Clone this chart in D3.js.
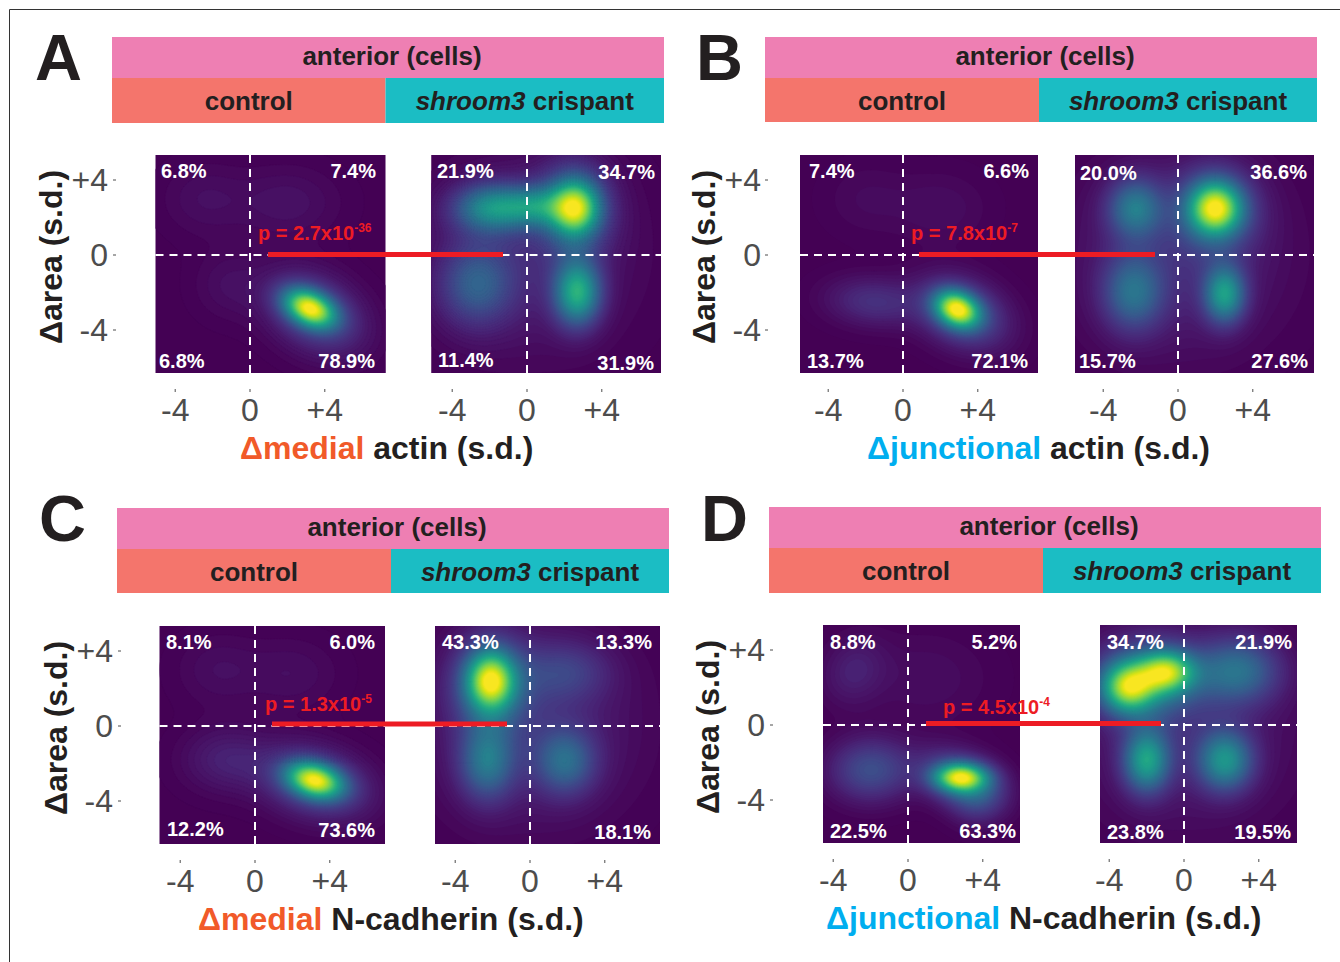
<!DOCTYPE html>
<html><head><meta charset="utf-8">
<style>html,body{margin:0;padding:0;background:#fff}svg{display:block}text{font-family:"Liberation Sans",Arial,sans-serif}</style>
<script src="https://cdn.jsdelivr.net/npm/d3@7"></script></head>
<body><div id="chart"></div>
<script>
// ---- data ----
const panelLetters = ["A","B","C","D"];
const markerPrefix = ["Δmedial","Δjunctional","Δmedial","Δjunctional"];
const markerSuffix = [" actin (s.d.)"," actin (s.d.)"," N-cadherin (s.d.)"," N-cadherin (s.d.)"];
const pMantissa = ["p = 2.7x10","p = 7.8x10","p = 1.3x10","p = 4.5x10"];
const pExponent = ["-36","-7","-5","-4"];
const groupLabels = ["control","crispant"];
const xTickValues = [-4,0,4];
const yTickValues = [4,0,-4];
const tickLabels = {"-4":"-4","0":"0","4":"+4"};
// quadrant shares: top-left, top-right, bottom-left, bottom-right ("" = not printed)
const sharesA = [["6.8%","7.4%","6.8%","78.9%"],["21.9%","34.7%","11.4%","31.9%"]];
const sharesB = [["7.4%","6.6%","13.7%","72.1%"],["20.0%","36.6%","15.7%","27.6%"]];
const sharesC = [["8.1%","6.0%","12.2%","73.6%"],["43.3%","13.3%","","18.1%"]];
const sharesD = [["8.8%","5.2%","22.5%","63.3%"],["34.7%","21.9%","23.8%","19.5%"]];
// density modes seen in each map: x, y (s.d.), spread x, spread y, tilt (deg), height 0..1
const modesAControl = [[3.2,-2.85,1.0,0.62,-25,0.82],[3.5,-3.1,1.9,1.35,-30,0.22],[-1.2,-1.6,1.3,1.3,0,0.04],[-2.5,3,1.6,1.4,0,0.04],[2,2.8,2,1.4,0,0.05]];
const modesACrispant = [[2.6,2.5,0.85,1.0,0,0.6],[2.5,2.5,1.35,1.6,0,0.3],[-2,2.5,1.35,0.9,0,0.42],[0.4,2.6,1.3,0.75,0,0.34],[2.7,-2,0.85,1.2,0,0.58],[-2.7,-1.6,1.35,1.5,0,0.26],[0,0,3.6,3.4,0,0.1]];
const modesBControl = [[2.9,-2.9,0.85,0.62,-25,0.8],[3.2,-3.1,1.7,1.2,-25,0.26],[-1.6,-2.5,1.7,0.9,-5,0.14],[-2,3,1.6,1.4,0,0.03],[2,2.5,1.8,1.4,0,0.04]];
const modesBCrispant = [[2,2.5,0.95,0.95,0,0.72],[2,2.4,1.5,1.55,0,0.25],[-2.3,2.5,1.0,1.1,0,0.36],[2.5,-2.1,0.75,1.05,0,0.5],[-2.4,-2,1.1,1.4,0,0.32],[0,0,3.6,3.4,0,0.12]];
const modesCControl = [[3.2,-2.9,1.05,0.62,-15,0.78],[3.2,-3.0,2.0,1.25,-15,0.24],[-1.6,-1.8,1.6,1.2,0,0.09],[-2,3,1.6,1.4,0,0.04],[2,2.8,1.8,1.4,0,0.04]];
const modesCCrispant = [[-2.1,2.4,0.85,1.05,0,0.68],[-2.1,2.3,1.4,1.7,0,0.3],[1.9,2.9,1.6,1.1,0,0.15],[-2.3,-1.9,1.0,1.4,0,0.34],[1.9,-1.9,1.1,1.2,0,0.29],[0,0,3.6,3.4,0,0.12]];
const modesDControl = [[2.8,-2.8,0.95,0.5,0,0.68],[2.8,-2.9,1.5,0.95,-20,0.3],[3.7,-3.8,1.0,1.0,0,0.15],[-2,-2.4,1.5,1.15,0,0.24],[-2.9,2.9,1.1,1.3,-30,0.09],[1,2.5,2.4,1.8,0,0.04]];
const modesDCrispant = [[-3,2,0.95,0.9,0,0.62],[-0.9,2.85,1.0,0.75,0,0.6],[-2,2.4,1.9,1.4,0,0.36],[2.9,2.9,1.5,1.2,0,0.33],[-2,-1.9,0.85,1.15,0,0.52],[2.2,-1.9,1.0,1.1,0,0.46],[0,0,3.8,3.6,0,0.1]];

// ---- layout ----
const W = 1340, H = 962;
const frames = [
 {letter:[35,80], head:[112,664,37,78,123], split:385.5, panels:[[155.5,385.5,250],[431.5,661,527]], y:[155,373,255], yTitle:62, yTick:[116,108], xTickY:421, xTitle:[240,459], pText:[258,240], pLine:[268,503,254.5],
  labels:[[[161,178],[376,178],[159,368],[375,368]],[[437,178],[655,179],[438,367],[654,370]]]},
 {letter:[696,80], head:[765,1317,37,78,122], split:1039, panels:[[800,1038,903],[1075,1314,1178]], y:[155,373,255], yTitle:715, yTick:[768,761], xTickY:421, xTitle:[867,459], pText:[911,240], pLine:[919,1155,254.5],
  labels:[[[809,178],[1029,178],[807,368],[1028,368]],[[1080,180],[1307,179],[1079,368],[1308,368]]]},
 {letter:[39,541], head:[117,669,508,549,593], split:391, panels:[[159.5,385,255],[435,660,530]], y:[626,844,726], yTitle:67, yTick:[121,113], xTickY:892, xTitle:[198,930], pText:[265,711], pLine:[272,507,724],
  labels:[[[166,649],[375,649],[167,836],[375,837]],[[442,649],[652,649],[442,837],[651,839]]]},
 {letter:[701,541], head:[769,1321,507,548,593], split:1043, panels:[[823,1020,908],[1100,1297,1184]], y:[625,843,725], yTitle:719, yTick:[773,765], xTickY:891, xTitle:[826,929], pText:[943,714], pLine:[926,1161,723.5],
  labels:[[[830,649],[1017,649],[830,838],[1016,838]],[[1107,649],[1292,649],[1107,839],[1291,839]]]}
];
const allShares = [sharesA,sharesB,sharesC,sharesD];
const allModes = [[modesAControl,modesACrispant],[modesBControl,modesBCrispant],[modesCControl,modesCCrispant],[modesDControl,modesDCrispant]];
const unitX = 18.7, unitY = 18.75, dark = "#231f20", grey = "#4d4d4d";

const svg = d3.select("#chart").append("svg").attr("width",W).attr("height",H).attr("viewBox",[0,0,W,H]);
svg.append("rect").attr("width",W).attr("height",H).attr("fill","#fff");
svg.append("path").attr("d",`M9.5,${H}V9.5H${W}`).attr("fill","none").attr("stroke","#333").attr("stroke-width",1);
const defs = svg.append("defs");

function densityAt(modes,x,y){
  let s = 0;
  for(const [mx,my,sx,sy,tilt,h] of modes){
    const t = tilt*Math.PI/180, dx=x-mx, dy=y-my;
    const u = dx*Math.cos(t)+dy*Math.sin(t), v = -dx*Math.sin(t)+dy*Math.cos(t);
    s += h*Math.exp(-0.5*(u*u/(sx*sx)+v*v/(sy*sy)));
  }
  return Math.min(s,1);
}

frames.forEach((f,fi)=>{
  const g = svg.append("g");
  // panel letter
  g.append("text").attr("x",f.letter[0]).attr("y",f.letter[1]).attr("font-size",65).attr("font-weight",700).attr("fill",dark).text(panelLetters[fi]);
  // header bands
  const [hx0,hx1,hy0,hy1,hy2] = f.head;
  g.append("rect").attr("x",hx0).attr("y",hy0).attr("width",hx1-hx0).attr("height",hy1-hy0).attr("fill","#ee7fb3");
  g.append("rect").attr("x",hx0).attr("y",hy1).attr("width",f.split-hx0).attr("height",hy2-hy1).attr("fill","#f4756c");
  g.append("rect").attr("x",f.split).attr("y",hy1).attr("width",hx1-f.split).attr("height",hy2-hy1).attr("fill","#1bbdc4");
  const headText = (x,y)=>g.append("text").attr("x",x).attr("y",y).attr("text-anchor","middle").attr("font-size",26).attr("font-weight",700).attr("fill",dark);
  headText((hx0+hx1)/2+4,hy0+28).text("anterior (cells)");
  headText((hx0+f.split)/2,hy1+32).text(groupLabels[0]);
  const t = headText((f.split+hx1)/2,hy1+32);
  t.append("tspan").attr("font-style","italic").text("shroom3");
  t.append("tspan").text(" "+groupLabels[1]);

  const yScale = d3.scaleLinear().domain([0,1]).range([f.y[2],f.y[2]-unitY]);
  f.panels.forEach(([px0,px1,zero],pi)=>{
    const xScale = d3.scaleLinear().domain([0,1]).range([zero,zero+unitX]);
    const pg = g.append("g");
    const id = `clip${fi}${pi}`;
    defs.append("clipPath").attr("id",id).append("rect").attr("x",px0).attr("y",f.y[0]).attr("width",px1-px0).attr("height",f.y[1]-f.y[0]);
    pg.append("rect").attr("x",px0).attr("y",f.y[0]).attr("width",px1-px0).attr("height",f.y[1]-f.y[0]).attr("fill",d3.interpolateViridis(0));
    // density field on a grid, drawn with d3.contours
    const step = 0.08;
    const x0 = xScale.invert(px0)-step*2, y1 = yScale.invert(f.y[0])+step*2;
    const nx = Math.ceil((xScale.invert(px1)-x0)/step)+3, ny = Math.ceil((y1-yScale.invert(f.y[1]))/step)+3;
    const grid = new Float64Array(nx*ny);
    for(let j=0;j<ny;j++)for(let i=0;i<nx;i++) grid[j*nx+i] = densityAt(allModes[fi][pi],x0+i*step,y1-j*step);
    const thresholds = d3.range(0.006,1.0,0.012);
    const contours = d3.contours().size([nx,ny]).thresholds(thresholds)(grid);
    const projection = d3.geoTransform({point(a,b){this.stream.point(xScale(x0+(a-0.5)*step),yScale(y1-(b-0.5)*step));}});
    const path = d3.geoPath(projection);
    pg.append("g").attr("clip-path",`url(#${id})`).selectAll("path").data(contours).join("path")
      .attr("d",path).attr("fill",d=>d3.interpolateViridis(d.value)).attr("stroke",d=>d3.interpolateViridis(d.value)).attr("stroke-width",0.3);
    // dashed quadrant lines
    const dash = {stroke:"#fff","stroke-width":2,"stroke-dasharray":"8 6"};
    const ln = (a,b,c,d)=>{const l=pg.append("line").attr("x1",a).attr("y1",b).attr("x2",c).attr("y2",d);Object.entries(dash).forEach(([k,v])=>l.attr(k,v));};
    ln(px0,yScale(0),px1,yScale(0));
    ln(xScale(0),f.y[0],xScale(0),f.y[1]);
    // quadrant labels
    allShares[fi][pi].forEach((txt,q)=>{
      if(!txt) return;
      const [lx,ly]=f.labels[pi][q];
      pg.append("text").attr("x",lx).attr("y",ly).attr("text-anchor",q%2?"end":"start").attr("font-size",20).attr("font-weight",700).attr("fill","#fff").text(txt);
    });
    // x axis
    xTickValues.forEach(v=>{
      pg.append("line").attr("x1",xScale(v)).attr("x2",xScale(v)).attr("y1",f.y[1]+16).attr("y2",f.y[1]+19).attr("stroke",grey).attr("stroke-width",1);
      pg.append("text").attr("x",xScale(v)).attr("y",f.xTickY).attr("text-anchor","middle").attr("font-size",32).attr("fill",grey).text(tickLabels[v]);
    });
  });
  // y axis
  yTickValues.forEach(v=>{
    g.append("line").attr("x1",f.yTick[0]-3).attr("x2",f.yTick[0]).attr("y1",yScale(v)).attr("y2",yScale(v)).attr("stroke",grey).attr("stroke-width",1);
    g.append("text").attr("x",f.yTick[1]).attr("y",yScale(v)+11).attr("text-anchor","end").attr("font-size",32).attr("fill",grey).text(tickLabels[v]);
  });
  g.append("text").attr("transform",`translate(${f.yTitle},${(f.y[2]+2)}) rotate(-90)`).attr("text-anchor","middle").attr("font-size",32).attr("font-weight",700).attr("fill",dark).text("Δarea (s.d.)");
  // x title
  const xt = g.append("text").attr("x",f.xTitle[0]).attr("y",f.xTitle[1]).attr("font-size",32).attr("font-weight",700).attr("fill",dark);
  xt.append("tspan").attr("fill",fi%2?"#00aeef":"#f15a29").text(markerPrefix[fi]);
  xt.append("tspan").text(markerSuffix[fi]);
  // significance bar
  g.append("line").attr("x1",f.pLine[0]).attr("x2",f.pLine[1]).attr("y1",f.pLine[2]).attr("y2",f.pLine[2]).attr("stroke","#ed1c24").attr("stroke-width",5);
  const pt = g.append("text").attr("x",f.pText[0]).attr("y",f.pText[1]).attr("font-size",20).attr("font-weight",700).attr("fill","#ed1c24");
  pt.append("tspan").text(pMantissa[fi]);
  pt.append("tspan").attr("font-size",12).attr("dy",-8).text(pExponent[fi]);
});
</script></body></html>
